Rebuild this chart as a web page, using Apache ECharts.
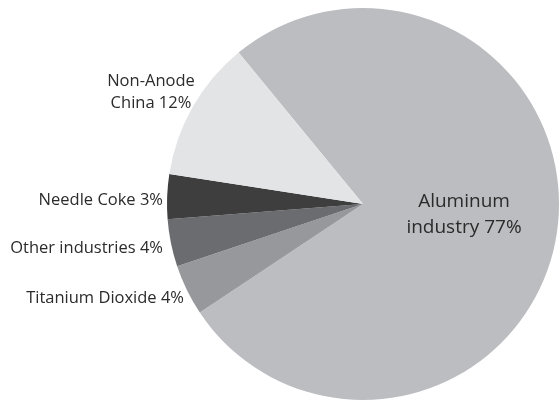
<!DOCTYPE html>
<html>
<head>
<meta charset="utf-8">
<script src="https://cdn.jsdelivr.net/npm/echarts@6/dist/echarts.min.js"></script>
<style>
html,body{margin:0;padding:0;background:#fff;}
#chart{width:560px;height:402px;}
</style>
</head>
<body>
<div id="chart"></div>
<script>
var categories = ['Aluminum industry', 'Titanium Dioxide', 'Other industries', 'Needle Coke', 'Non-Anode China'];
var values = [76.6, 4.2, 3.9, 3.7, 11.6];
var labelText = ['Aluminum\nindustry 77%', 'Titanium Dioxide 4%', 'Other industries 4%', 'Needle Coke 3%', 'Non-Anode\nChina 12%'];
var colors = ['#bcbdc1', '#97989c', '#6b6c70', '#3e3e3f', '#e3e4e6'];

// label anchor layout (pixels)
var labelAnchors = {
  0: { x: 464, y: 215, align: 'center' },
  1: { x: 184, y: 298, align: 'right' },
  2: { x: 163, y: 248, align: 'right' },
  3: { x: 163, y: 200, align: 'right' },
  4: { x: 151, y: 92, align: 'center' }
};

var chart = echarts.init(document.getElementById('chart'));
var data = categories.map(function (c, i) {
  var d = { name: c, value: values[i], itemStyle: { color: colors[i] } };
  if (i === 0) {
    d.label = { position: 'inside', fontSize: 19, lineHeight: 26, align: 'center' };
  }
  if (i === 4) {
    d.label = { align: 'center', lineHeight: 22 };
  }
  return d;
});
chart.setOption({
  animation: false,
  series: [{
    type: 'pie',
    center: [363, 204],
    radius: [0, 196],
    startAngle: 129.4,
    clockwise: true,
    data: data,
    label: {
      show: true,
      position: 'outside',
      overflow: 'none',
      fontFamily: '"Open Sans", sans-serif',
      fontSize: 16.5,
      color: '#2b2b2b',
      formatter: function (p) { return labelText[p.dataIndex]; }
    },
    labelLine: { show: false, length: 4, length2: 0 },
    labelLayout: function (p) {
      var a = labelAnchors[p.dataIndex];
      if (!a) return {};
      return { x: a.x, y: a.y, align: a.align, verticalAlign: 'middle' };
    }
  }]
});
</script>
</body>
</html>
